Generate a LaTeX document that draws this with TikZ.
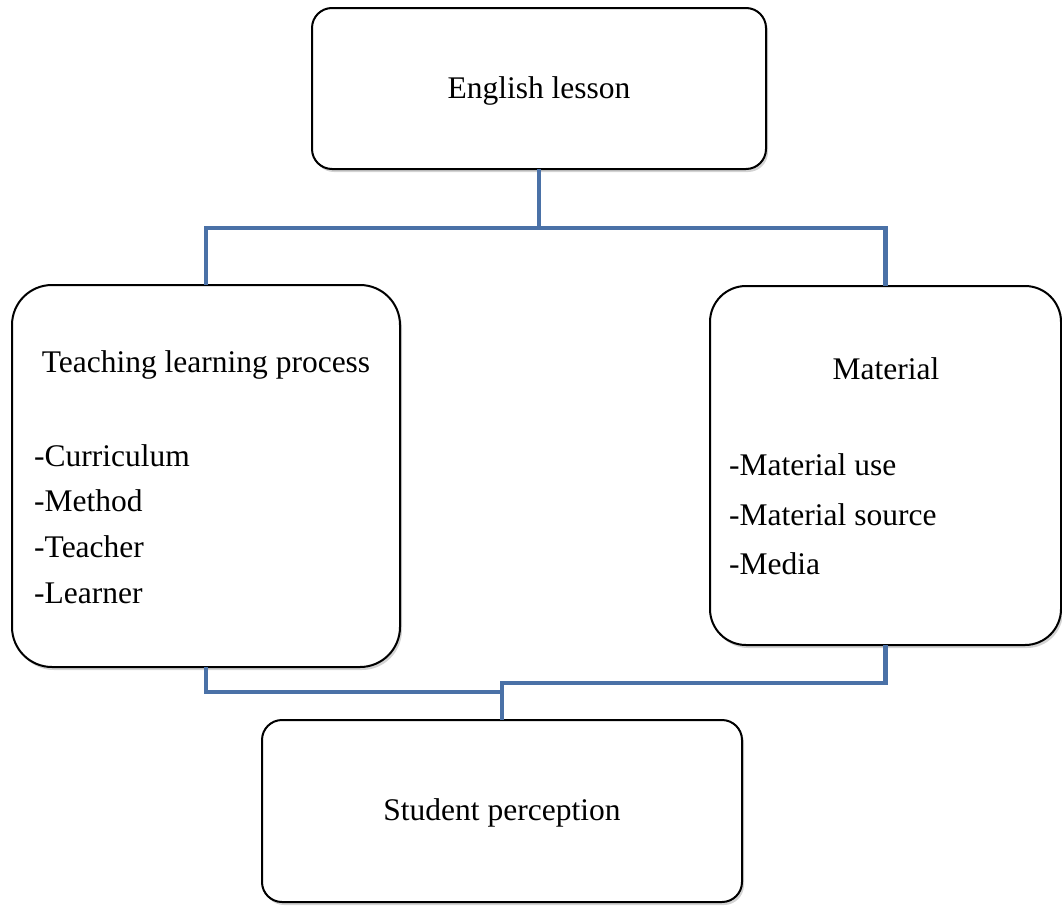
\documentclass[tikz,border=0pt]{standalone}
\usepackage{fontspec}
\setmainfont{Liberation Serif}
\usetikzlibrary{shadows}
\begin{document}
\begin{tikzpicture}[x=1pt,y=-1pt,
  box/.style={draw=black, line width=2pt, fill=white, rectangle, inner sep=0pt, outer sep=0pt,
    drop shadow={shadow xshift=2pt, shadow yshift=-3pt, opacity=0.35, fill=black!50}},
  txt/.style={font=\fontsize{31.5}{36}\selectfont, inner sep=0pt},
  item/.style={txt, anchor=west}]
\definecolor{lineblue}{HTML}{4A71A7}
\tikzset{conn/.style={draw=lineblue, line width=4.5pt}}
\useasboundingbox (0,0) rectangle (1062,905);
% boxes
\node[box, rounded corners=20pt, minimum width=454pt, minimum height=161pt] (eng) at (539,88.5) {};
\node[box, rounded corners=40pt, minimum width=388pt, minimum height=382pt] (tlp) at (206,476) {};
\node[box, rounded corners=36pt, minimum width=351pt, minimum height=359pt] (mat) at (885.5,465.5) {};
\node[box, rounded corners=20pt, minimum width=480pt, minimum height=182pt] (sp) at (502,811) {};
% connectors
\coordinate (jt) at (539,228);
\coordinate (jl) at (502,692);
\coordinate (jr) at (502,683);
\draw[conn] (eng.south) -- (jt);
\draw[conn] (jt) -| (tlp.north);
\draw[conn] (jt) -| (mat.north);
\draw[conn] (tlp.south) |- (jl);
\draw[conn] (mat.south) |- (jr) -- (sp.north);
% texts
\node[txt] (engt) at (539,91) {English lesson};
\node[txt] (tlpt) at (206,365) {Teaching learning process};
\node[item] (t1) at (34,456) {-Curriculum};
\node[item] (t2) at (34,501) {-Method};
\node[item] (t3) at (34,547) {-Teacher};
\node[item] (t4) at (34,593) {-Learner};
\node[txt] (matt) at (886,369) {Material};
\node[item] (m1) at (729,465) {-Material use};
\node[item] (m2) at (729,515) {-Material source};
\node[item] (m3) at (729,564) {-Media};
\node[txt] (spt) at (502,813) {Student perception};
\end{tikzpicture}
\end{document}
